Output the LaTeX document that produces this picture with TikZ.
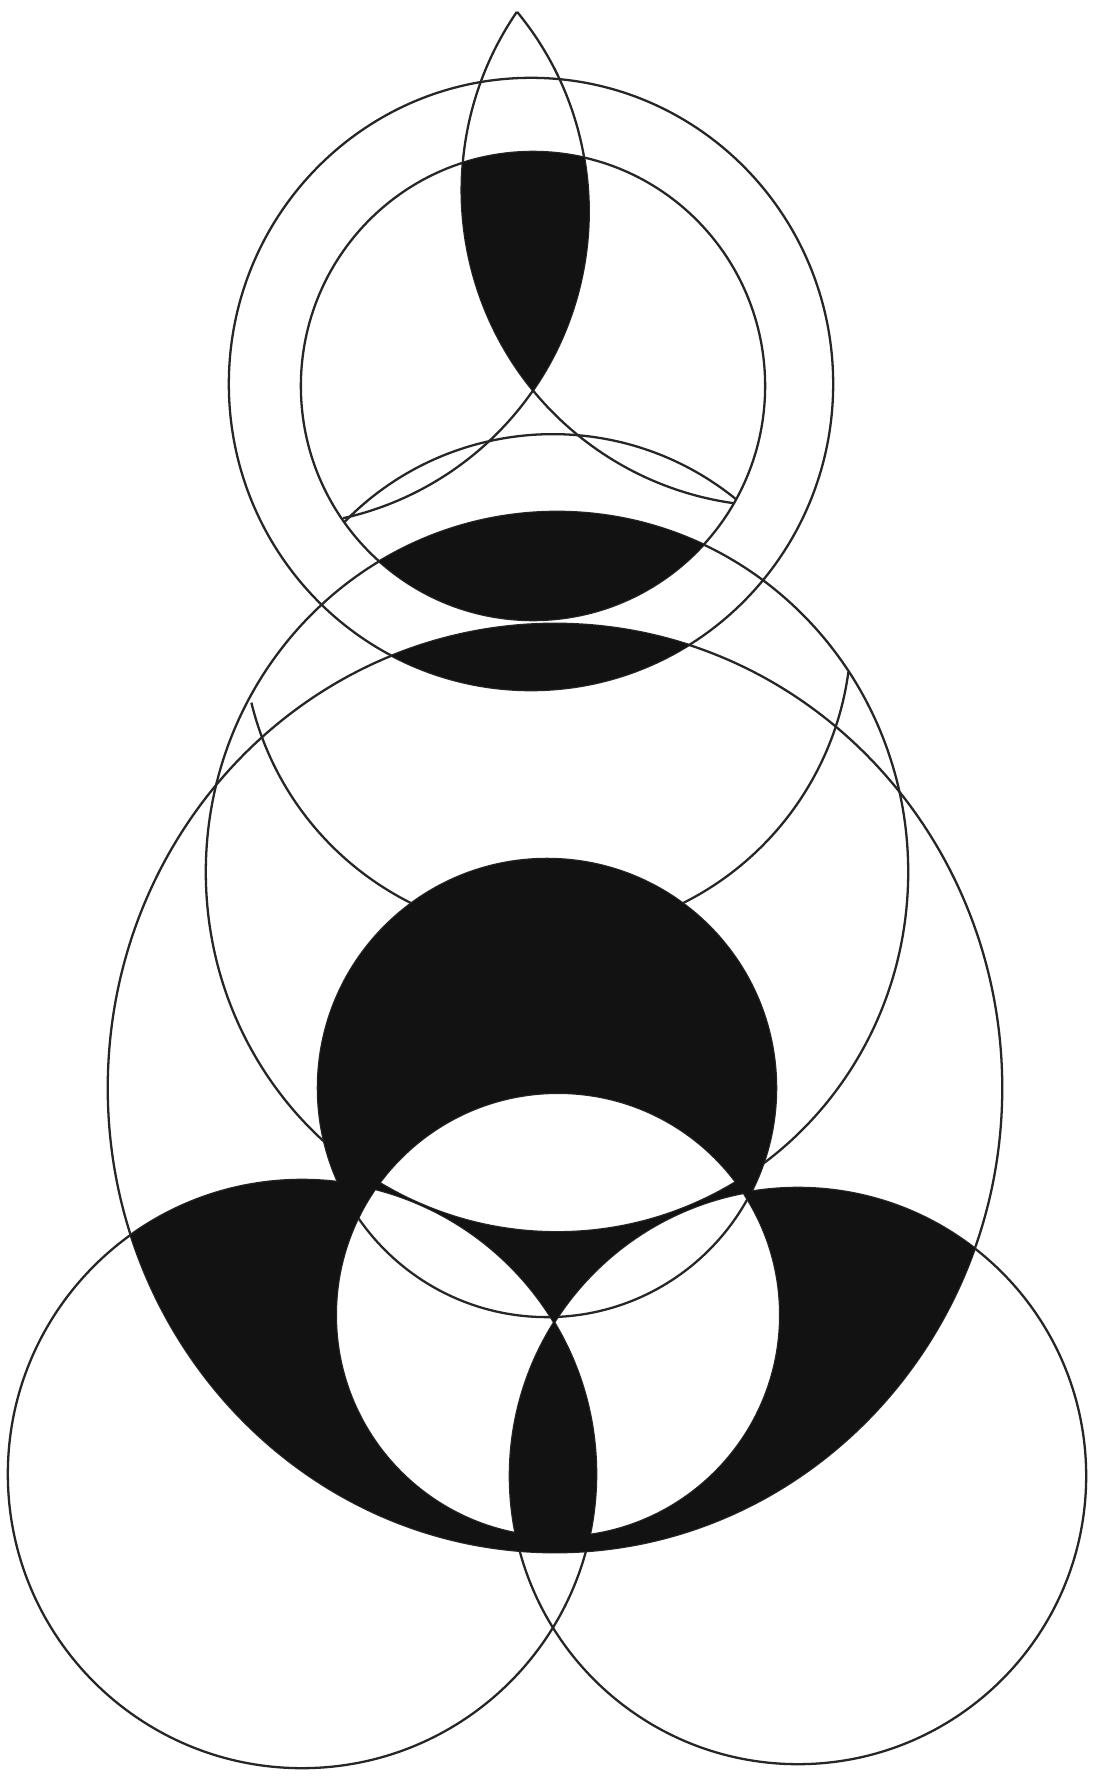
\documentclass[tikz,border=0pt]{standalone}
\begin{document}
\begin{tikzpicture}[x=0.01cm,y=0.01cm]
\tikzset{
  ink/.style={draw=black!85,line width=0.65pt},
  blk/.style={fill=black!93},
  ringA/.style={x radius=3.02cm,y radius=3.06cm},
  ringB/.style={x radius=2.32cm,y radius=2.34cm},
  ringE/.style={x radius=3.51cm,y radius=3.60cm},
  ringF/.style={x radius=4.47cm,y radius=4.64cm}
}
\useasboundingbox (0,0) rectangle (1096,-1776);
\fill[white] (0,0) rectangle (1096,-1776);
% centres
\coordinate (cA) at (531,-384);
\coordinate (cB) at (533,-386);
\coordinate (cE) at (557,-872);
\coordinate (cF) at (555,-1088);
\coordinate (cG) at (547,-1088);
\coordinate (cH) at (558,-1315);
\coordinate (cI) at (302,-1474);
\coordinate (cJ) at (798,-1476);
\coordinate (cVL) at (777.6,-190.3);
\coordinate (cVR) at (274.6,-211.6);
\coordinate (cR) at (552.7,-724.8);
\coordinate (cK) at (547,-631);
% outlines
\draw[ink] (cA) ellipse [ringA];
\draw[ink] (cB) ellipse [ringB];
\draw[ink] (cE) ellipse [ringE];
\draw[ink] (cF) ellipse [ringF];
\draw[ink] (cG) circle [radius=2.29cm];
\draw[ink] (cH) circle [radius=2.22cm];
\draw[ink] (cI) circle [radius=2.94cm];
\draw[ink] (cJ) circle [radius=2.88cm];
\draw[ink] (cVL) ++(145.62:3.158cm) arc [start angle=145.62, end angle=262.1, radius=3.158cm];
\draw[ink] (cVR) ++(39.47:3.14cm) arc [start angle=39.47, end angle=-77.4, radius=3.14cm];
\draw[ink] (cR) ++(51:2.905cm) arc [start angle=51, end angle=135.7, radius=2.905cm];
\draw[ink] (cK) ++(193.63:3.04cm) arc [start angle=193.63, end angle=352.27, radius=3.04cm];
% black regions
\begin{scope}
  \clip (cB) ellipse [ringB];
  \clip (cVL) circle [radius=3.158cm];
  \fill[blk] (cVR) circle [radius=3.14cm];
\end{scope}
\begin{scope}
  \clip (cB) ellipse [ringB];
  \fill[blk] (cE) ellipse [ringE];
\end{scope}
\begin{scope}
  \clip (cA) ellipse [ringA];
  \fill[blk] (cF) ellipse [ringF];
\end{scope}
\begin{scope}
  \clip (cG) circle [radius=2.29cm];
  \fill[blk, even odd rule] (0,0) rectangle (1096,-1776) (cH) circle [radius=2.22cm];
\end{scope}
\begin{scope}
  \clip (cF) ellipse [ringF];
  \clip (cI) circle [radius=2.94cm];
  \fill[blk, even odd rule] (0,0) rectangle (1096,-1776) (cH) circle [radius=2.22cm];
\end{scope}
\begin{scope}
  \clip (cF) ellipse [ringF];
  \clip (cJ) circle [radius=2.88cm];
  \fill[blk, even odd rule] (0,0) rectangle (1096,-1776) (cH) circle [radius=2.22cm];
\end{scope}
\begin{scope}
  \clip (cH) circle [radius=2.22cm];
  \clip (1096,0) rectangle (0,-1776) (cE) ellipse [ringE];
  \fill[blk, even odd rule] (0,0) rectangle (1096,-1776) (cI) circle [radius=2.94cm] (cJ) circle [radius=2.88cm];
\end{scope}
\end{tikzpicture}
\end{document}
